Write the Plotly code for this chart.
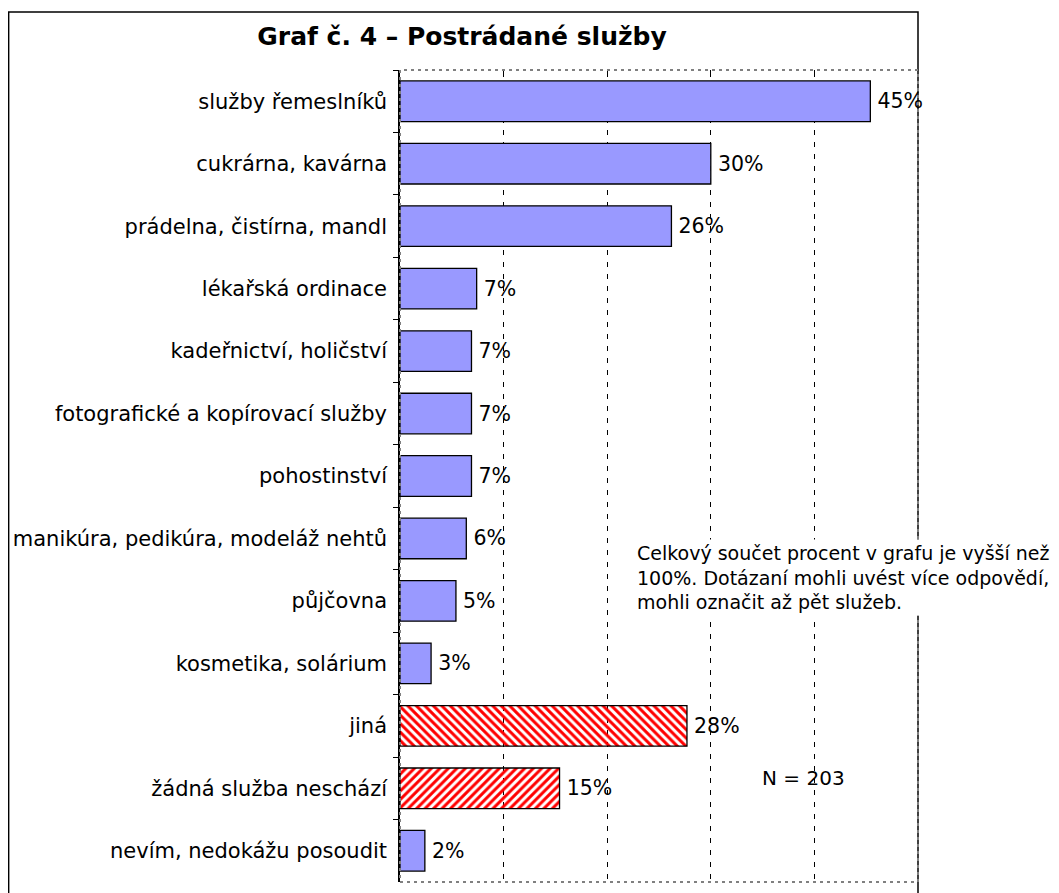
import plotly.graph_objects as go

# data
categories = [
    "služby řemeslníků",
    "cukrárna, kavárna",
    "prádelna, čistírna, mandl",
    "lékařská ordinace",
    "kadeřnictví, holičství",
    "fotografické a kopírovací služby",
    "pohostinství",
    "manikúra, pedikúra, modeláž nehtů",
    "půjčovna",
    "kosmetika, solárium",
    "jiná",
    "žádná služba neschází",
    "nevím, nedokážu posoudit",
]
shares = [45.4, 30.0, 26.2, 7.4, 6.9, 6.9, 6.9, 6.4, 5.4, 3.0, 27.7, 15.4, 2.4]
hatch = ["", "", "", "", "", "", "", "", "", "", "\\", "/", ""]

title_text = "Graf č. 4 – Postrádané služby"
note_text = ("Celkový součet procent v grafu je vyšší než<br>"
             "100%. Dotázaní mohli uvést více odpovědí,<br>"
             "mohli označit až pět služeb.")
n_text = "N = 203"

FONT = "DejaVu Sans"
BLUE = "#9999FF"
RED = "#FF0000"

bar_colors = [BLUE if h == "" else RED for h in hatch]
fg_colors = [RED] * len(hatch)
bg_colors = ["white"] * len(hatch)

fig = go.Figure()
fig.add_trace(go.Bar(
    y=categories, x=shares, orientation="h",
    marker=dict(color=bar_colors,
                line=dict(color="black", width=1.3),
                pattern=dict(shape=hatch, fgcolor=fg_colors, bgcolor=bg_colors,
                             fillmode="replace", size=6, solidity=0.5)),
    texttemplate="\u2009%{x:.0f}%", textposition="outside",
    textfont=dict(family=FONT, size=20.5, color="black"),
    cliponaxis=False, constraintext="none",
    showlegend=False, hoverinfo="skip",
))

# page body has an 8px margin, so the figure sits 8px right/down
fig.update_layout(
    width=1059, height=893,
    margin=dict(l=391.5, r=149.3, t=62, b=19, autoexpand=False),
    paper_bgcolor="white", plot_bgcolor="white",
    bargap=0.35,
    font=dict(family=FONT, color="black"),
    title=dict(text="<b>" + title_text + "</b>", x=454 / 1059, y=1 - 28 / 893,
               xanchor="center", yanchor="middle",
               font=dict(family=FONT, size=25, color="black")),
)

fig.update_xaxes(
    range=[0, 50], side="top", tickvals=[0, 10, 20, 30, 40, 50],
    showticklabels=False, ticks="inside", ticklen=7, tickcolor="black",
    showgrid=True, gridcolor="black", gridwidth=1, griddash="5px,7px",
    zeroline=False, showline=False,
)
fig.update_yaxes(
    autorange="reversed", type="category", tickson="boundaries",
    ticks="outside", ticklen=5, tickcolor="black",
    showline=True, linecolor="black", linewidth=1.5,
    showgrid=False, ticklabelstandoff=7,
    tickfont=dict(family=FONT, size=21, color="black"),
)

# outer frame of the figure
fig.add_shape(type="rect", xref="paper", yref="paper",
              x0=-0.7555, x1=1.0, y0=-0.05, y1=1.0714,
              line=dict(color="black", width=1.5), layer="below")
# dotted plot-area border
fig.add_shape(type="rect", xref="paper", yref="paper",
              x0=0, x1=1, y0=0, y1=1,
              line=dict(color="#808080", width=2, dash="3px,4px"), layer="above")

fig.add_annotation(text=note_text, xref="paper", yref="paper",
                   x=0.452, y=0.3756, xanchor="left", yanchor="middle",
                   align="left", showarrow=False, bgcolor="white", borderpad=2,
                   font=dict(family=FONT, size=19, color="black"))
fig.add_annotation(text=n_text, xref="paper", yref="paper",
                   x=0.779, y=0.128, xanchor="center", yanchor="middle",
                   showarrow=False, font=dict(family=FONT, size=20, color="black"))

fig.write_html("out.html")
